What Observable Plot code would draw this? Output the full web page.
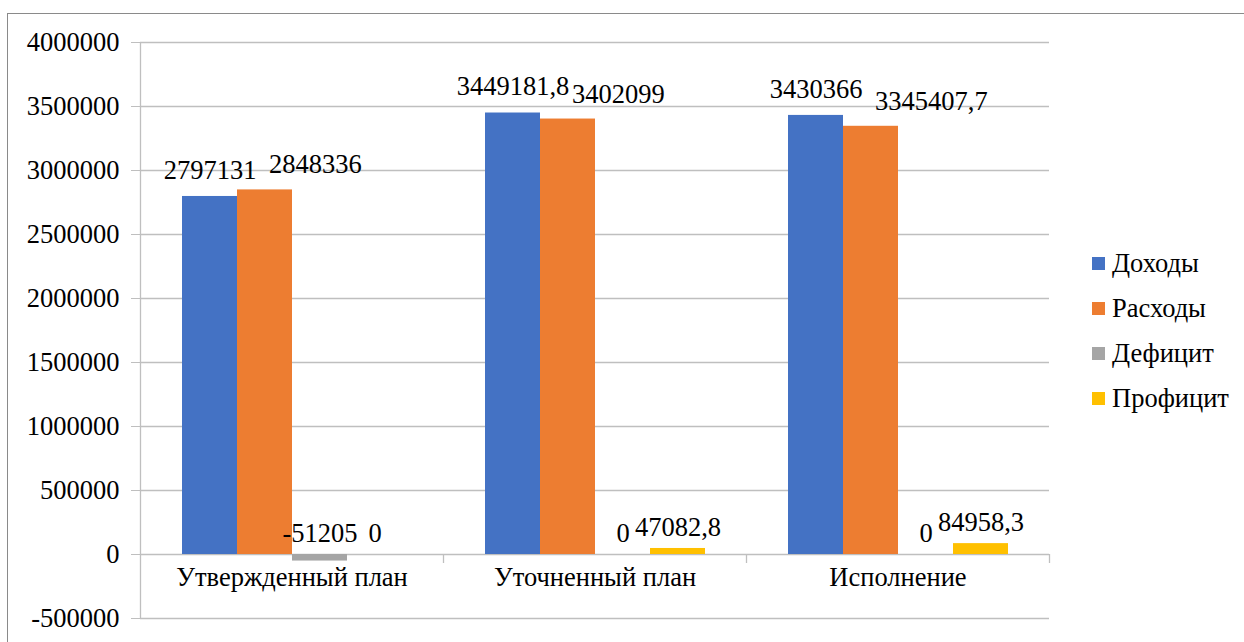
<!DOCTYPE html>
<html>
<head>
<meta charset="utf-8">
<script src="https://cdn.jsdelivr.net/npm/d3@7"></script>
<script src="https://cdn.jsdelivr.net/npm/@observablehq/plot@0.6"></script>
<style>
  html, body { margin: 0; padding: 0; background: #fff; }
  #wrap { position: relative; width: 1244px; height: 642px; overflow: hidden; font-family: "Liberation Serif", "Times New Roman", serif; }
  #border { position: absolute; left: 7px; top: 13px; width: 1260px; height: 660px; border: 1.5px solid #8a8a8a; box-sizing: border-box; }
  #chart { position: absolute; left: 0; top: 0; }
  #legend { position: absolute; left: 1092px; top: 0; }
  .row { position: absolute; left: 0; height: 30px; display: flex; align-items: center; white-space: nowrap; font-size: 26.5px; color: #000; font-family: "Liberation Serif", "Times New Roman", serif; }
  .sw { width: 13px; height: 13px; margin-right: 7px; flex: none; }
  #chart svg text { font-family: "Liberation Serif", "Times New Roman", serif !important; }
</style>
</head>
<body>
<div id="wrap">
  <div id="border"></div>
  <div id="chart"></div>
  <div id="legend"></div>
</div>
<script>
const categories = ["Утвержденный план", "Уточненный план", "Исполнение"];
const series = ["Доходы", "Расходы", "Дефицит", "Профицит"];
const dohody   = [2797131, 3449181.8, 3430366];
const rashody  = [2848336, 3402099, 3345407.7];
const deficit  = [-51205, 0, 0];
const proficit = [0, 47082.8, 84958.3];
const colors = ["#4472C4", "#ED7D31", "#A5A5A5", "#FFC000"];
const yTicks = [-500000, 0, 500000, 1000000, 1500000, 2000000, 2500000, 3000000, 3500000, 4000000];

const seriesValues = [dohody, rashody, deficit, proficit];
const data = [];
categories.forEach((c, i) => {
  series.forEach((s, j) => {
    const v = seriesValues[j][i];
    data.push({cat: c, series: s, value: v, label: String(v).replace(".", ",")});
  });
});

const W = 1244, H = 642;
const mL = 140, mR = 195, mT = 42, mB = 24;
const halfBand = (W - mL - mR) / categories.length / 2;
const gridColor = "#bfbfbf";
const serif = "'Liberation Serif', 'Times New Roman', serif";
const fs = 26.5;

const plot = Plot.plot({
  width: W,
  height: H,
  marginLeft: mL,
  marginRight: mR,
  marginTop: mT,
  marginBottom: mB,
  style: {fontFamily: serif, fontSize: fs + "px", color: "#000", background: "transparent", overflow: "visible"},
  fx: {domain: categories, padding: 0, axis: null},
  x: {domain: series, paddingInner: 0, paddingOuter: 0.73, axis: null},
  y: {domain: [yTicks[0], yTicks[yTicks.length - 1]], axis: null},
  color: {domain: series, range: colors},
  marks: [
    Plot.gridY(yTicks, {stroke: gridColor, strokeOpacity: 1, strokeWidth: 1.3}),
    Plot.axisY(yTicks, {label: null, tickSize: 9, tickPadding: 12, stroke: gridColor, strokeOpacity: 1, tickFormat: d => String(d), fontSize: fs, fill: "#000", facetAnchor: "left"}),
    // y axis line (left edge of the first facet)
    Plot.ruleX([categories[0]], {fx: d => d, x: null, y1: yTicks[0], y2: yTicks[yTicks.length - 1], dx: -halfBand, stroke: gridColor, strokeWidth: 1.3}),
    // category boundary ticks below the zero line
    Plot.ruleX(categories, {fx: d => d, x: null, y1: 0, y2: yTicks[0], insetBottom: 55, dx: halfBand, stroke: gridColor, strokeWidth: 1.3}),
    Plot.barY(data, {fx: "cat", x: "series", y: "value", fill: "series"}),
    // category labels
    Plot.text(categories, {fx: d => d, text: d => d, frameAnchor: "bottom", dy: -33, fontSize: fs, fill: "#000"}),
    // value labels
    Plot.text(data.filter(d => d.series === "Доходы"), {fx: "cat", x: "series", y: d => Math.max(0, d.value), text: "label", dy: -26, fontSize: fs, fill: "#000"}),
    Plot.text(data.filter(d => d.series === "Расходы"), {fx: "cat", x: "series", y: d => Math.max(0, d.value), text: "label", dy: -25, dx: 4, textAnchor: "start", fontSize: fs, fill: "#000"}),
    Plot.text(data.filter(d => d.series === "Дефицит" || d.series === "Профицит"), {fx: "cat", x: "series", y: d => Math.max(0, d.value), text: "label", dy: -21, fontSize: fs, fill: "#000"})
  ]
});
document.getElementById("chart").appendChild(plot);

const legend = document.getElementById("legend");
const rowCenters = [263, 308, 353, 398];
series.forEach((s, j) => {
  const row = document.createElement("div");
  row.className = "row";
  row.style.top = (rowCenters[j] - 15) + "px";
  const sw = document.createElement("span");
  sw.className = "sw";
  sw.style.background = colors[j];
  const t = document.createElement("span");
  t.textContent = s;
  row.appendChild(sw);
  row.appendChild(t);
  legend.appendChild(row);
});
</script>
</body>
</html>
